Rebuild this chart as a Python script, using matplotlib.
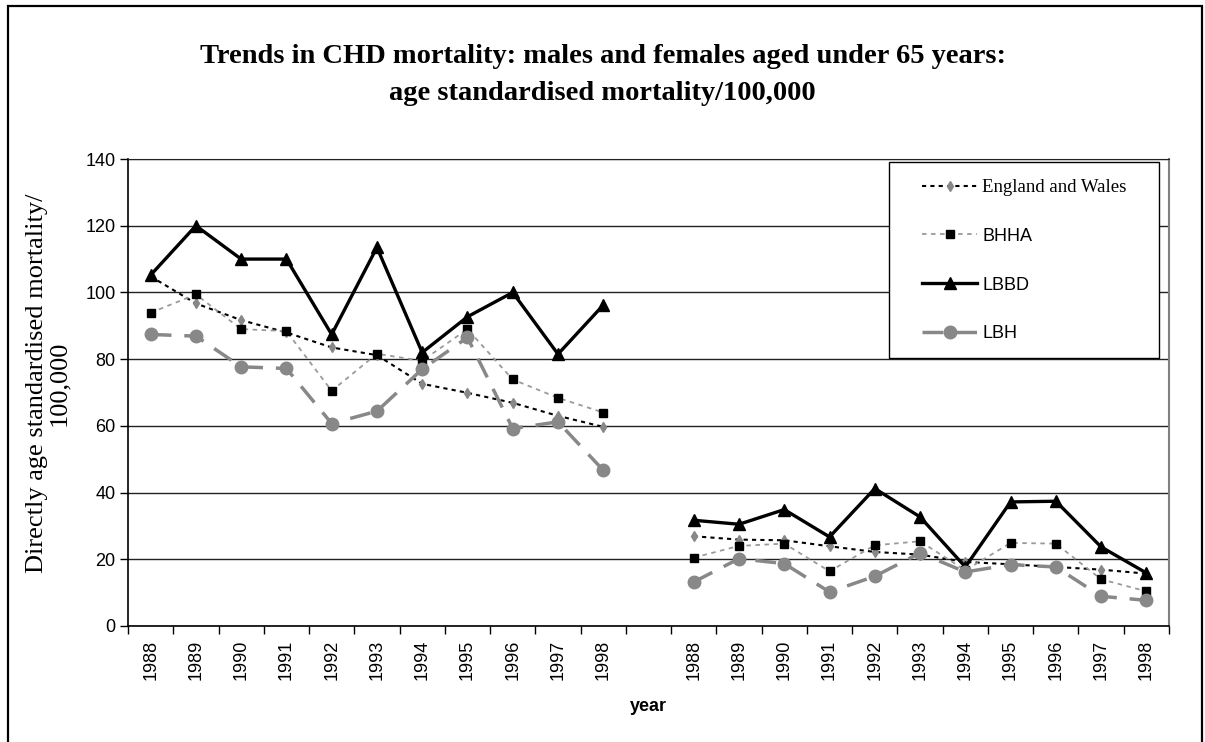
import numpy as np
import matplotlib.pyplot as plt
from matplotlib.patches import Rectangle

# Daten: links Maenner, rechts Frauen (jeweils 1988-1998)
years = ['1988', '1989', '1990', '1991', '1992', '1993',
         '1994', '1995', '1996', '1997', '1998']

ew_m = [104.8, 96.7, 91.7, 88.0, 83.5, 81.2, 72.6, 69.9, 66.9, 63.0, 59.7]
ew_f = [26.9, 25.9, 25.7, 23.9, 22.2, 21.4, 19.2, 18.5, 17.7, 16.9, 15.7]

bhha_m = [93.9, 99.4, 89.0, 88.4, 70.5, 81.6, 79.5, 89.0, 73.9, 68.4, 64.0]
bhha_f = [20.5, 24.0, 24.7, 16.4, 24.2, 25.4, 16.7, 24.9, 24.7, 14.0, 10.4]

lbbd_m = [105.2, 120.0, 110.0, 110.0, 87.4, 113.5, 82.0, 92.7, 100.0, 81.5, 96.2]
lbbd_f = [31.7, 30.5, 34.9, 26.7, 41.2, 32.7, 17.7, 37.2, 37.4, 23.7, 15.9]

lbh_m = [87.4, 86.9, 77.7, 77.2, 60.7, 64.4, 77.0, 86.5, 59.2, 61.2, 46.7]
lbh_f = [13.2, 20.2, 18.7, 10.2, 14.9, 21.9, 16.2, 18.4, 17.7, 8.9, 7.7]

# Positionen: 11 Jahre, eine Luecke, 11 Jahre
x_m = np.arange(len(years))
x_f = x_m + len(years) + 1

W, H = 1205, 742
fig = plt.figure(figsize=(W / 100, H / 100), dpi=100)
ax = fig.add_axes([128 / W, 1 - 626 / H, (1169 - 128) / W, (626 - 159) / H])

sans = 'Liberation Sans'
serif = 'Liberation Serif'

# Stil je Serie
styles = [
    ('England and Wales', ew_m, ew_f,
     dict(color='black', lw=1.5, ls=(0, (2, 2)), marker='d', ms=5,
          mfc='#888888', mec='#888888')),
    ('BHHA', bhha_m, bhha_f,
     dict(color='#9a9a9a', lw=1.3, ls=(0, (2.5, 2.5)), marker='s', ms=5.5,
          mfc='black', mec='black')),
    ('LBBD', lbbd_m, lbbd_f,
     dict(color='black', lw=2.4, ls='-', marker='^', ms=9,
          mfc='black', mec='black')),
    ('LBH', lbh_m, lbh_f,
     dict(color='#888888', lw=2.5, ls=(0, (6, 3.7)), marker='o', ms=9,
          mfc='#888888', mec='#888888')),
]

for name, ym, yf, st in styles:
    ax.plot(x_m, ym, label=name, **st)
    ax.plot(x_f, yf, **st)

ax.set_xlim(-0.5, x_f[-1] + 0.5)
ax.set_ylim(0, 140)

# y-Achse
ax.set_yticks(np.arange(0, 141, 20))
ax.tick_params(axis='y', direction='out', length=6, width=1, pad=3,
               labelsize=13)
ax.grid(axis='y', color='#222222', lw=1.0)
ax.set_axisbelow(True)

# x-Achse: Striche an den Grenzen, Jahreszahlen in der Mitte
ax.set_xticks(np.arange(-0.5, x_f[-1] + 1, 1.0), minor=True)
ax.set_xticks(np.concatenate([x_m, x_f]))
ax.set_xticklabels(years + years, rotation=90)
ax.tick_params(axis='x', which='major', length=0, pad=10, labelsize=13)
ax.tick_params(axis='x', which='minor', direction='out', length=6, width=1)

for lab in ax.get_xticklabels() + ax.get_yticklabels():
    lab.set_family(sans)

ax.spines['left'].set_linewidth(1.2)
ax.spines['bottom'].set_linewidth(1.2)
ax.spines['top'].set_color('#222222')
ax.spines['right'].set_color('#808080')
ax.spines['right'].set_linewidth(1.5)

ax.set_xlabel('year', fontsize=13, fontweight='bold', family=sans, labelpad=13)

# Legende mit eigenem Kasten
box = Rectangle((889 / W, 1 - 358 / H), 270 / W, 196 / H,
                transform=fig.transFigure, facecolor='white',
                edgecolor='black', lw=1.0, zorder=4.5, clip_on=False)
ax.add_patch(box)
leg = ax.legend(loc='upper left', bbox_to_anchor=(922 / W, 1 - 179 / H),
                bbox_transform=fig.transFigure, frameon=False,
                borderpad=0, borderaxespad=0, numpoints=1,
                handlelength=3.05, handletextpad=0.3, labelspacing=1.76,
                prop={'family': sans, 'size': 13})
leg.set_zorder(6)
leg.get_texts()[0].set_family(serif)
leg.get_texts()[0].set_fontsize(13.5)

# Titel
fig.text(0.5, 1 - 63 / H, 'Trends in CHD mortality: males and females aged under 65 years:',
         ha='center', va='baseline', fontsize=20.5, fontweight='bold', family=serif)
fig.text(0.5, 1 - 100 / H, 'age standardised mortality/100,000',
         ha='center', va='baseline', fontsize=20.5, fontweight='bold', family=serif)

# y-Beschriftung
fig.text(48 / W, 1 - 383 / H, 'Directly age standardised mortality/\n100,000',
         rotation=90, ha='center', va='center', fontsize=19, family=serif,
         linespacing=1.05, multialignment='center')

# Rahmen um die ganze Abbildung
fig.patches.append(Rectangle((8 / W, -0.02), (1202 - 8) / W, 1.02 - 6 / H,
                             transform=fig.transFigure, fill=False,
                             edgecolor='black', lw=1.6))

fig.savefig('out.png', dpi=100)
